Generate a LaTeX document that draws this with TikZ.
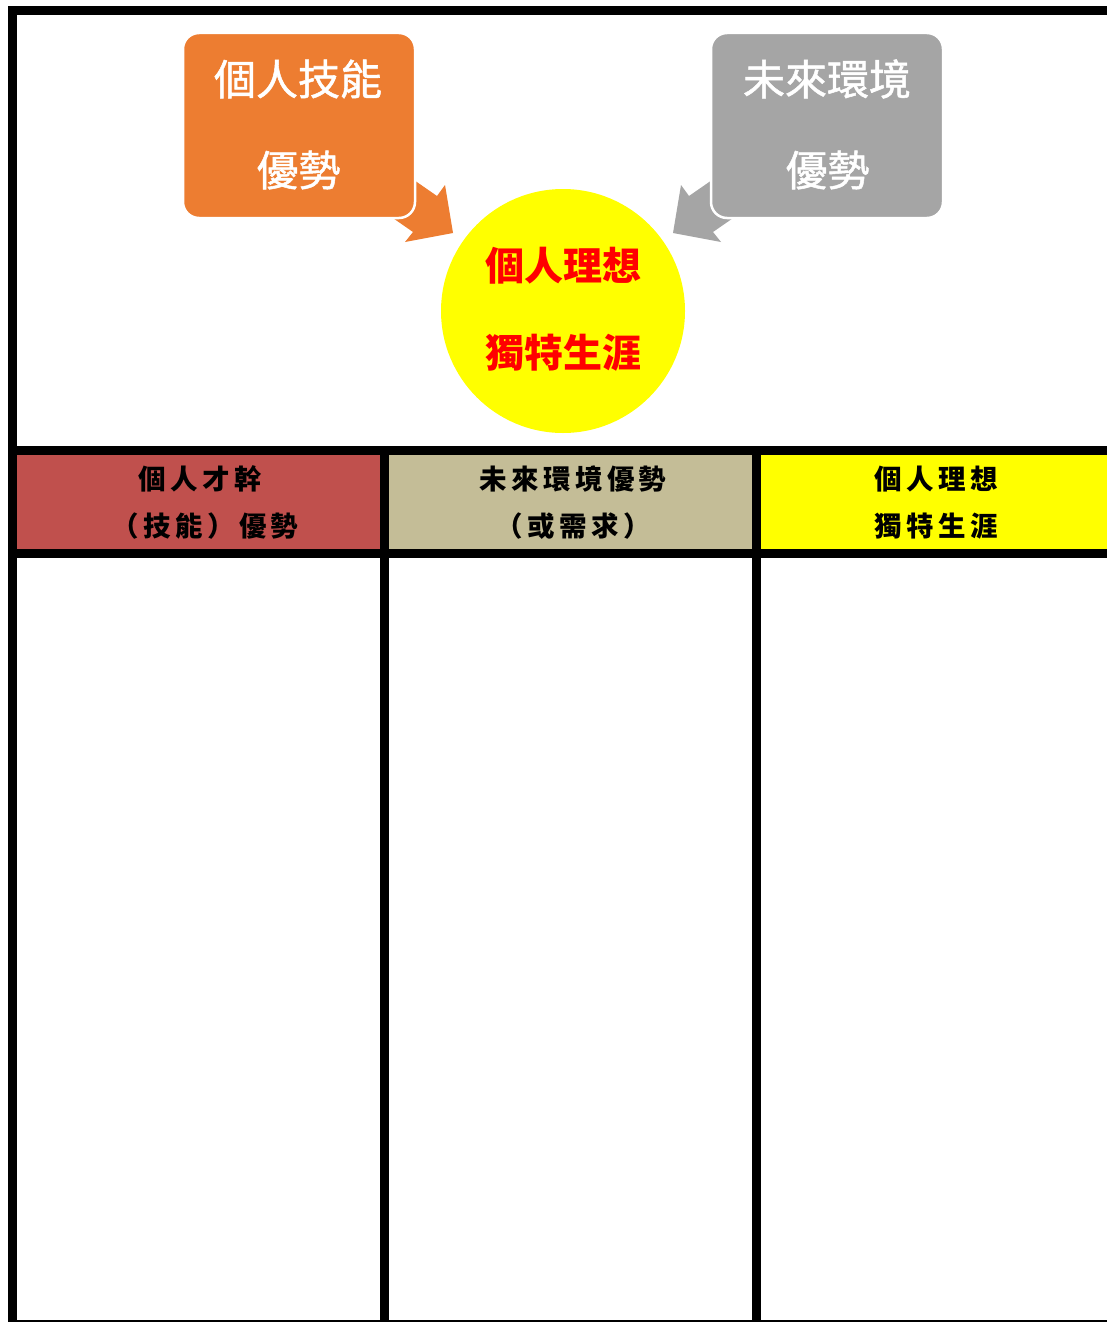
\documentclass[tikz,border=0pt]{standalone}
\usepackage{fontspec}
\newfontfamily\cjk{Noto Sans CJK TC}
\newfontfamily\cjkm[FakeBold=1.2]{Noto Sans CJK TC}
\newfontfamily\hdr[LetterSpace=16]{Noto Sans CJK TC}
\definecolor{oboxc}{HTML}{ED7D31}
\definecolor{gboxc}{HTML}{A5A5A5}
\definecolor{hred}{HTML}{C0504D}
\definecolor{htan}{HTML}{C4BD97}
\definecolor{hyel}{HTML}{FFFF00}
\definecolor{ctext}{HTML}{FF0000}
\tikzset{
  bigbox/.style={rounded corners=16pt, draw=white, line width=2.5pt, minimum width=232pt, minimum height=185pt, inner sep=0pt},
  boxtext/.style={text=white, font=\cjkm\fontsize{42pt}{42pt}\selectfont},
  circtext/.style={text=ctext, font=\cjk\bfseries\fontsize{39pt}{39pt}\selectfont},
  hdrtext/.style={text=black, font=\hdr\bfseries\fontsize{27.5pt}{27.5pt}\selectfont},
  rule/.style={fill=black},
}
\begin{document}
\begin{tikzpicture}[x=1pt,y=-1pt]
\useasboundingbox (0,0) rectangle (1107,1322);
\fill[white] (0,0) rectangle (1107,1322);
% header fills
\fill[hred] (17,455) rectangle (380,549);
\fill[htan] (389,455) rectangle (752,549);
\fill[hyel] (761,455) rectangle (1107,549);
% black rules
\fill[rule] (8,6) rectangle (1107,15);
\fill[rule] (8,6) rectangle (17,1321);
\fill[rule] (8,446) rectangle (1107,455);
\fill[rule] (8,549) rectangle (1107,558);
\fill[rule] (380,446) rectangle (389,1321);
\fill[rule] (752,446) rectangle (761,1321);
\fill[rule] (8,1320) rectangle (1107,1321.5);
% circle
\node[circle, fill=hyel, minimum size=244pt, inner sep=0pt] (ideal) at (563,311) {};
% arrows (drawn before boxes so boxes overlap their tails)
\fill[oboxc] (388,162) -- (437,196) -- (445,185) -- (453,233) -- (405,242) -- (413,232) -- (364,198) -- cycle;
\fill[gboxc] (738,162) -- (689,196) -- (681,185) -- (673,233) -- (721,242) -- (713,232) -- (762,198) -- cycle;
% boxes
\node[bigbox, fill=oboxc] (skill) at (299,125.5) {};
\node[bigbox, fill=gboxc] (env) at (827,125.5) {};
\node[boxtext] (skillA) at (298,79) {個人技能};
\node[boxtext] (skillB) at (298.5,170) {優勢};
\node[boxtext] (envA) at (827,79) {未來環境};
\node[boxtext] (envB) at (827.5,170) {優勢};
\node[circtext] (idealA) at (563.5,266) {個人理想};
\node[circtext] (idealB) at (563.5,353) {獨特生涯};
% headers
\node[hdrtext] (h1a) at (200,479) {個人才幹};
\node[hdrtext] (h1b) at (205,526) {（技能）優勢};
\node[hdrtext] (h2a) at (573,479) {未來環境優勢};
\node[hdrtext] (h2b) at (573,526) {（或需求）};
\node[hdrtext] (h3a) at (936,479) {個人理想};
\node[hdrtext] (h3b) at (936,526) {獨特生涯};
\end{tikzpicture}
\end{document}
